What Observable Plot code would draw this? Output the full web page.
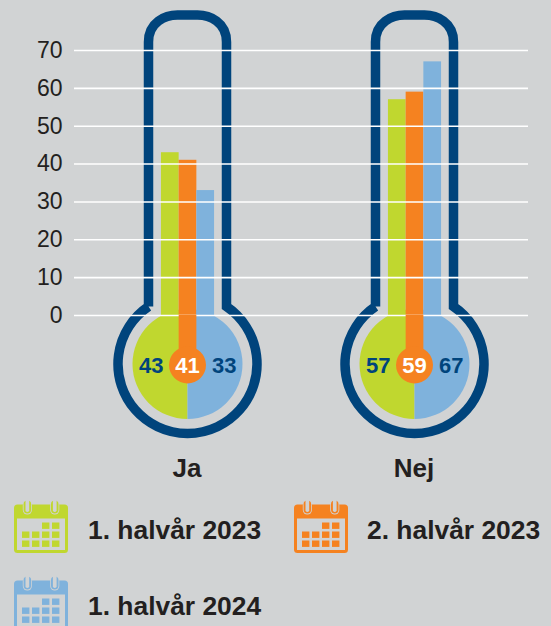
<!DOCTYPE html>
<html lang="sv">
<head>
<meta charset="utf-8">
<script src="https://cdn.jsdelivr.net/npm/d3@7"></script>
<script src="https://cdn.jsdelivr.net/npm/@observablehq/plot@0.6"></script>
<style>
  html, body { margin: 0; padding: 0; background: #d1d3d4; }
  #page { position: relative; width: 551px; height: 626px; overflow: hidden; font-family: "Liberation Sans", Arial, sans-serif; color: #231f20; }
  #chart svg { display: block; }
  .key { position: absolute; font-weight: bold; font-size: 26.4px; line-height: 30px; white-space: nowrap; }
  .icon { position: absolute; display: block; }
</style>
</head>
<body>
<div id="page"><div id="chart"></div></div>
<script>
const categories = ["Ja", "Nej"];
const series = ["1. halvår 2023", "2. halvår 2023", "1. halvår 2024"];
const jaValues = [43, 41, 33];
const nejValues = [57, 59, 67];
const yTicks = [0, 10, 20, 30, 40, 50, 60, 70];
const colors = ["#c0d72f", "#f58220", "#7fb2dc"];
const navy = "#00447c";
const bg = "#d1d3d4";
const ink = "#231f20";

const rows = [
  ...series.map((s, i) => ({category: "Ja", series: s, value: jaValues[i]})),
  ...series.map((s, i) => ({category: "Nej", series: s, value: nejValues[i]}))
];

const bulbOffset = 49;   // pixels from the zero line to the bulb centre
const anchorMark = (render) => Plot.dot(categories, {
  fx: d => d, x: () => series[1], y: () => 0, render
});
const bandOf = (s) => typeof s.x.bandwidth === "function" ? s.x.bandwidth() : s.x.bandwidth;
const centre = (s) => s.x(series[1]) + bandOf(s) / 2;

function thermometer(index, s, values, dim, ctx) {
  const g = d3.select(ctx.document.createElementNS("http://www.w3.org/2000/svg", "g"));
  const cx = centre(s), y0 = s.y(0), cy = y0 + bulbOffset;
  const top = 15, r = 69.5, w = 39, neck = cy - Math.sqrt(r * r - w * w);
  const half = (sign) => `M${cx},${cy - 55}A55,55 0 0 ${sign > 0 ? 1 : 0} ${cx},${cy + 55}Z`;
  g.append("path").attr("d", half(-1)).attr("fill", colors[0]);
  g.append("path").attr("d", half(1)).attr("fill", colors[2]);
  g.append("path")
    .attr("d", `M${cx - w},${neck}V42C${cx - w},22 ${cx - 22},${top} ${cx - 10},${top}H${cx + 10}C${cx + 22},${top} ${cx + w},22 ${cx + w},42V${neck}A${r},${r} 0 1 1 ${cx - w},${neck}`)
    .attr("fill", "none").attr("stroke", navy).attr("stroke-width", 9.5).attr("stroke-linejoin", "miter");
  return g.node();
}

function centreBulb(index, s, values, dim, ctx) {
  const g = d3.select(ctx.document.createElementNS("http://www.w3.org/2000/svg", "g"));
  const cx = centre(s), y0 = s.y(0), cy = y0 + bulbOffset;
  g.append("rect").attr("x", s.x(series[1])).attr("y", y0).attr("width", bandOf(s)).attr("height", bulbOffset).attr("fill", colors[1]);
  g.append("circle").attr("cx", cx).attr("cy", cy + 1).attr("r", 18.5).attr("fill", colors[1]);
  return g.node();
}

const labelMark = (i, dx, fill) => Plot.text(rows.filter(d => d.series === series[i]), {
  fx: "category",
  x: "series",
  y: () => 0,
  text: d => String(d.value),
  dx,
  dy: bulbOffset + 1,
  fill,
  fontSize: 22,
  fontWeight: "bold"
});

const chart = Plot.plot({
  width: 551,
  height: 490,
  marginTop: 0,
  marginLeft: 74,
  marginRight: 23,
  marginBottom: 35,
  style: {background: "transparent", fontFamily: "'Liberation Sans', Arial, sans-serif", color: ink},
  fx: {domain: categories, padding: 0, axis: null},
  x: {domain: series, paddingInner: 0, paddingOuter: 4.91, round: false, axis: null},
  y: {domain: [0, 70], range: [315, 50], axis: null},
  marks: [
    anchorMark(thermometer),
    Plot.barY(rows, {fx: "category", x: "series", y: "value", fill: d => colors[series.indexOf(d.series)], inset: 0}),
    Plot.ruleY(yTicks, {stroke: "#ffffff", strokeWidth: 1.6}),
    anchorMark(centreBulb),
    labelMark(0, -19, navy),
    labelMark(1, -0.5, "#ffffff"),
    labelMark(2, 18.5, navy),
    Plot.axisY(yTicks, {anchor: "left", tickSize: 0, tickPadding: 12, fontSize: 23, fill: ink, label: null}),
    Plot.axisFx({anchor: "bottom", tickSize: 0, tickPadding: 0, fontSize: 26, fontWeight: "bold", fill: ink, label: null, lineAnchor: "bottom", dy: 21, dx: -1})
  ]
});
document.getElementById("chart").appendChild(chart);

function calendar(color, left, top) {
  const svg = d3.select("#page").append("svg")
    .attr("class", "icon").attr("width", 56).attr("height", 54)
    .style("left", left + "px").style("top", top + "px");
  svg.append("rect").attr("x", 0).attr("y", 4.5).attr("width", 54).attr("height", 48.5).attr("rx", 3.5).attr("fill", color);
  svg.append("rect").attr("x", 3).attr("y", 18.5).attr("width", 48).attr("height", 31.5).attr("fill", bg);
  for (const x of [9.6, 37]) {
    svg.append("rect").attr("x", x - 0.8).attr("y", 0.5).attr("width", 9.1).attr("height", 14).attr("rx", 4.5).attr("fill", bg);
    svg.append("rect").attr("x", x).attr("y", 0.5).attr("width", 7.5).attr("height", 13).attr("rx", 3.7).attr("fill", color);
    svg.append("rect").attr("x", x + 1.9).attr("y", -3).attr("width", 3.7).attr("height", 15).attr("rx", 1.8).attr("fill", bg);
  }
  const cols = [8, 18, 28, 38];
  const rowsY = [22.5, 31.5, 40.5];
  rowsY.forEach((y, r) => cols.forEach((x, c) => {
    if (r === 0 && c < 2) return;
    svg.append("rect").attr("x", x).attr("y", y).attr("width", 7.4).attr("height", 6.4).attr("fill", color);
  }));
}

function keyText(text, left, top) {
  d3.select("#page").append("div").attr("class", "key")
    .style("left", left + "px").style("top", top + "px").text(text);
}

calendar(colors[0], 13.7, 499.5);
calendar(colors[1], 293.7, 499.5);
calendar(colors[2], 13.7, 575.5);
keyText(series[0], 88, 515);
keyText(series[1], 367, 515);
keyText(series[2], 88, 591);
</script>
</body>
</html>
